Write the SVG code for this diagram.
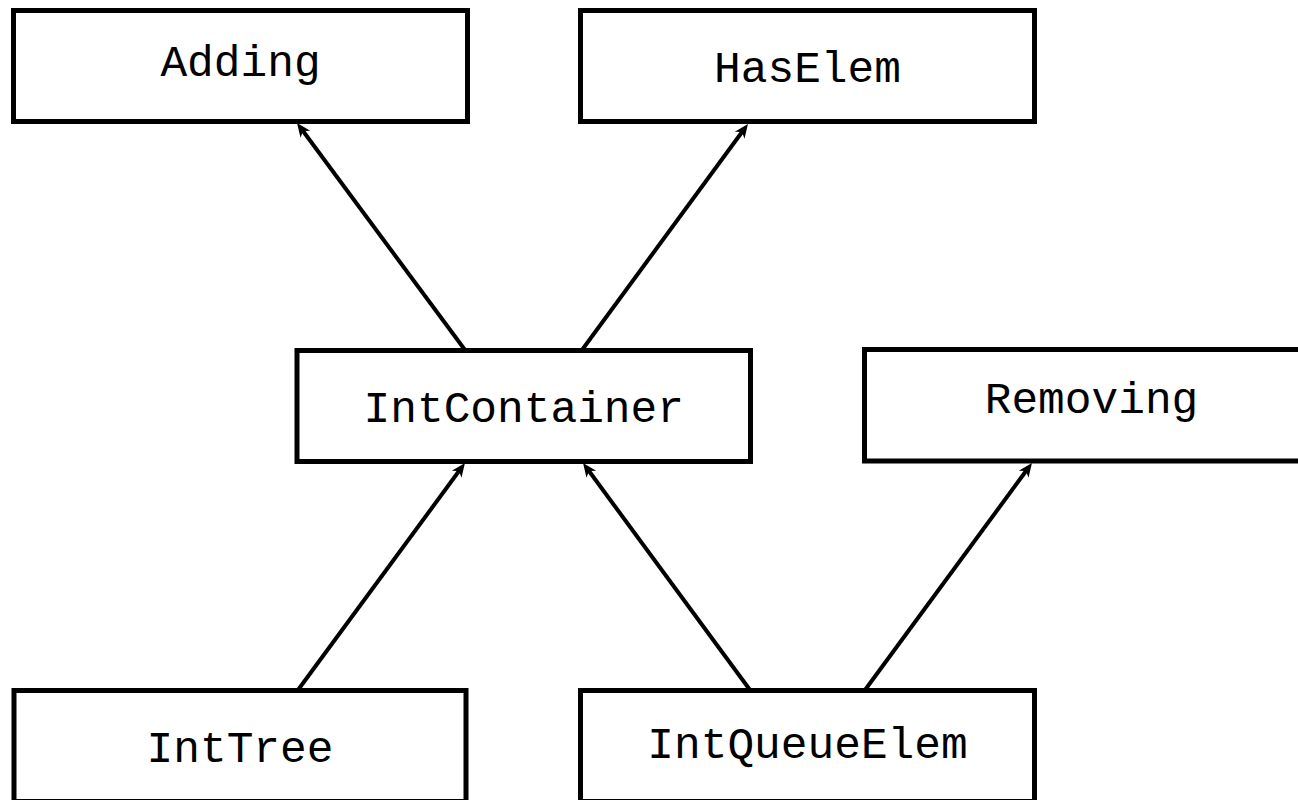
<svg xmlns="http://www.w3.org/2000/svg" width="1298" height="800" viewBox="0 0 1298 800">
  <style>
    .box { fill: #ffffff; stroke: #000000; stroke-width: 5; }
    .lbl { font-family: "Liberation Mono", "DejaVu Sans Mono", monospace; font-size: 44.5px; fill: #000000; text-anchor: middle; }
    .edge { fill: none; stroke: #000000; stroke-width: 4; marker-end: url(#arr); }
  </style>
  <defs>
    <marker id="arr" markerUnits="userSpaceOnUse" markerWidth="24" markerHeight="20" viewBox="-14 -10 24 20" refX="0" refY="0" orient="auto" overflow="visible">
      <path d="M6,0 L-8,-6 L-4,0 L-8,6 Z" fill="#000000"/>
    </marker>
  </defs>
  <rect x="0" y="0" width="1298" height="800" fill="#ffffff"/>
  <g id="connectors">
    <line class="edge" x1="465" y1="350" x2="300.6" y2="127.8"/>
    <line class="edge" x1="582" y1="350" x2="744.4" y2="128.8"/>
    <line class="edge" x1="298" y1="690" x2="461.4" y2="467.8"/>
    <line class="edge" x1="750" y1="690" x2="586.6" y2="467.8"/>
    <line class="edge" x1="865" y1="690" x2="1028.4" y2="467.8"/>
  </g>
  <g id="Adding">
    <rect class="box" x="13.5" y="10.5" width="454" height="111"/>
    <text class="lbl" x="240.5" y="76">Adding</text>
  </g>
  <g id="HasElem">
    <rect class="box" x="580.5" y="10.5" width="454" height="111"/>
    <text class="lbl" x="807.5" y="82">HasElem</text>
  </g>
  <g id="IntContainer">
    <rect class="box" x="297" y="350.5" width="453.5" height="111"/>
    <text class="lbl" x="523.75" y="421.7">IntContainer</text>
  </g>
  <g id="Removing">
    <rect class="box" x="864.5" y="349.5" width="454" height="111.5"/>
    <text class="lbl" x="1091.5" y="413.3">Removing</text>
  </g>
  <g id="IntTree">
    <rect class="box" x="14" y="690.5" width="452" height="111"/>
    <text class="lbl" x="240" y="761.7">IntTree</text>
  </g>
  <g id="IntQueueElem">
    <rect class="box" x="580.5" y="690.5" width="454" height="111"/>
    <text class="lbl" x="807.5" y="758.3">IntQueueElem</text>
  </g>
</svg>
